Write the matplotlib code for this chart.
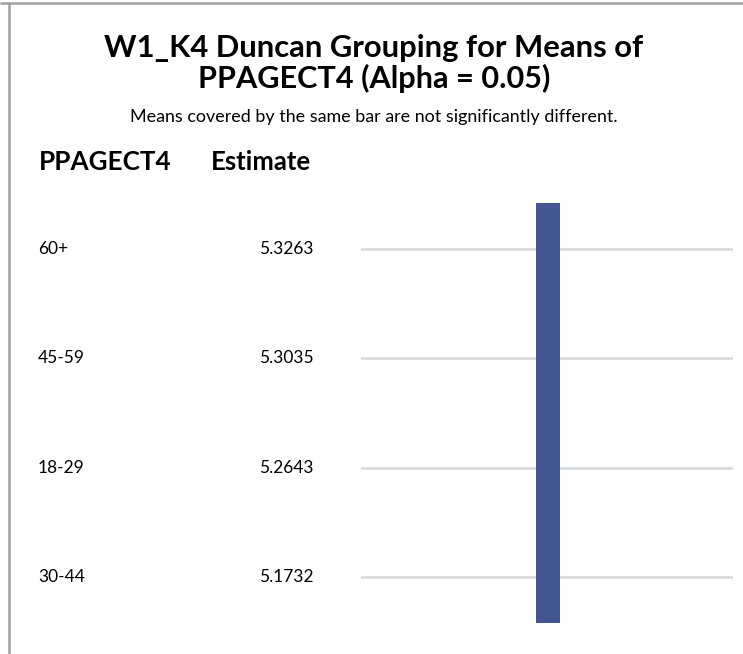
import matplotlib
matplotlib.use("Agg")
import matplotlib.pyplot as plt
from matplotlib.lines import Line2D
import matplotlib.transforms as mtransforms

plt.rcParams['font.family'] = ['Lato', 'DejaVu Sans']

# Данные: уровни, оценки и группа Дункана
levels = ['60+', '45-59', '18-29', '30-44']
estimates = [5.3263, 5.3035, 5.2643, 5.1732]
groups = ['A', 'A', 'A', 'A']

title1 = 'W1_K4 Duncan Grouping for Means of'
title2 = 'PPAGECT4 (Alpha = 0.05)'
subtitle = 'Means covered by the same bar are not significantly different.'
col_heads = ['PPAGECT4', 'Estimate']

bar_color = '#445694'
grid_color = '#d6d8da'

W, H = 743, 654
fig = plt.figure(figsize=(W / 100, H / 100), dpi=100)
renderer = fig.canvas.get_renderer()


def fit(t, target_w):
    # подгоняем размер шрифта под ширину в пикселях
    w = t.get_window_extent(renderer).width
    t.set_fontsize(t.get_fontsize() * target_w / w)
    return t


def px(x, y):
    return x / W, 1 - y / H


# рамка (верх и лево)
fig.add_artist(Line2D([0.0, 1.0], [1 - 3 / H] * 2, color='#a0a0a0', lw=1.8,
                      solid_capstyle='butt', transform=fig.transFigure))
fig.add_artist(Line2D([9 / W] * 2, [0.0, 1 - 3 / H], color='#a0a0a0', lw=1.8,
                      solid_capstyle='butt', transform=fig.transFigure))

fit(fig.text(*px(374, 57), title1, ha='center', va='baseline', fontsize=20, fontweight='bold'), 540)
fit(fig.text(*px(374, 88), title2, ha='center', va='baseline', fontsize=20, fontweight='bold'), 352)
fit(fig.text(*px(374, 122), subtitle, ha='center', va='baseline', fontsize=10), 485)
fit(fig.text(*px(39, 170), col_heads[0], ha='left', va='baseline', fontsize=14, fontweight='bold'), 133)
fit(fig.text(*px(211, 170), col_heads[1], ha='left', va='baseline', fontsize=14, fontweight='bold'), 101)

# область с полосой группы
row_px = [249, 358, 468, 577]
step = (row_px[-1] - row_px[0]) / (len(levels) - 1)
pad = 0.55
top = row_px[0] - pad * step
bot = row_px[-1] + pad * step
ax = fig.add_axes([361 / W, 1 - bot / H, 372 / W, (bot - top) / H])
ypos = list(range(len(levels)))
ax.set_xlim(0, 1)
ax.set_ylim(len(levels) - 1 + pad, -pad)
ax.axis('off')

for y in ypos:
    ax.axhline(y, color=grid_color, lw=1.8, zorder=1)

span = 0.42
ax.bar(0.503, (len(levels) - 1) + 2 * span, bottom=-span, width=0.065,
       color=bar_color, zorder=2)

tr = mtransforms.blended_transform_factory(fig.transFigure, ax.transData)
for y, lev, est in zip(ypos, levels, estimates):
    ax.text(38 / W, y, lev, transform=tr, ha='left', va='center', fontsize=12.5)
    ax.text(314 / W, y, f'{est:.4f}', transform=tr, ha='right', va='center', fontsize=12.5)

fig.savefig('out.png', dpi=100)
